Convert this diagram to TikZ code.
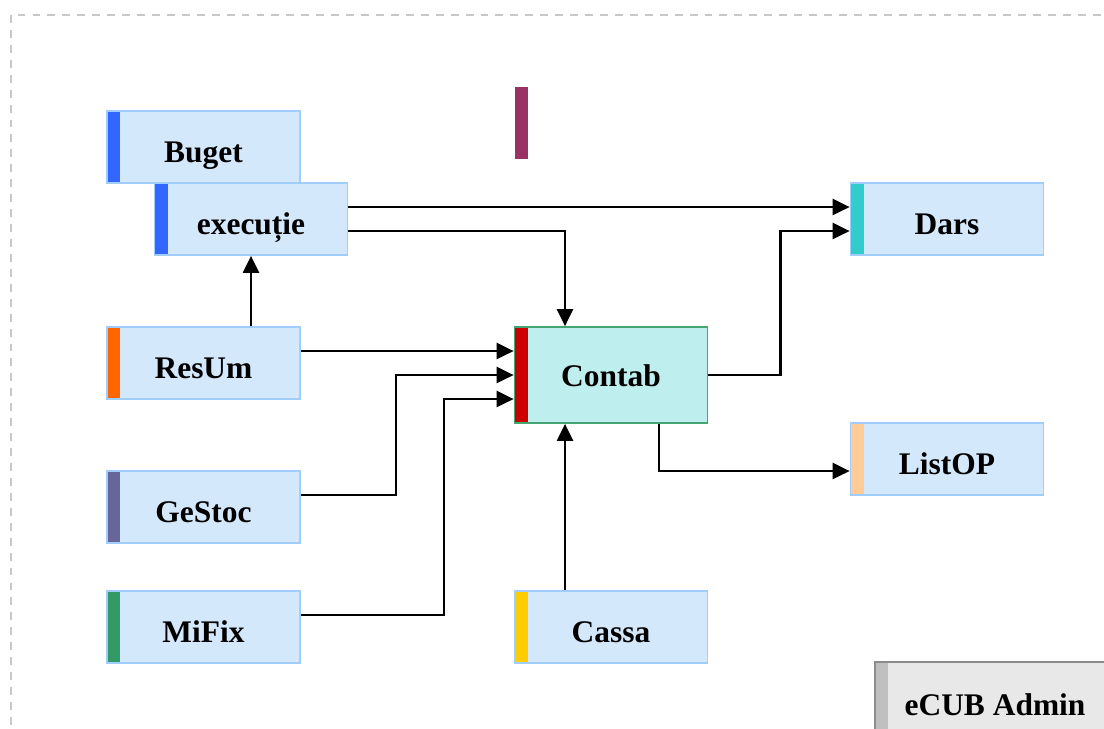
\documentclass[tikz,border=0pt]{standalone}
\usepackage{fontspec}
\setmainfont{Liberation Serif}
\usetikzlibrary{
    arrows.meta,    % Triangle tips
    calc            % ($(a)+(0,12)$)
}
\definecolor{modfill}{RGB}{212,232,252}
\definecolor{modedge}{RGB}{160,205,250}
\definecolor{ctbfill}{RGB}{190,238,238}
\definecolor{ctbedge}{RGB}{70,165,115}
\definecolor{barblue}{RGB}{51,102,255}
\definecolor{barcyan}{RGB}{51,204,204}
\definecolor{barorange}{RGB}{255,102,0}
\definecolor{barred}{RGB}{204,0,0}
\definecolor{barpeach}{RGB}{255,204,153}
\definecolor{barslate}{RGB}{102,102,153}
\definecolor{bargreen}{RGB}{51,153,102}
\definecolor{baryellow}{RGB}{255,204,0}
\definecolor{barpurple}{RGB}{153,51,102}
\definecolor{admfill}{RGB}{232,232,232}
\definecolor{admbar}{RGB}{192,192,192}
\definecolor{admedge}{RGB}{140,140,140}
\definecolor{frame}{RGB}{200,200,200}
\begin{document}
\begin{tikzpicture}[x=0.02cm, y=-0.02cm,
        font=\fontsize{17.9}{20}\selectfont\bfseries,
        mod/.style={draw=modedge, line width=1pt, fill=modfill, inner sep=0pt,
            minimum width=3.86cm, minimum height=1.44cm,
            text height=0.6cm, text depth=0pt,
            path picture={\fill[#1] (path picture bounding box.north west)
                rectangle ([xshift=0.26cm]path picture bounding box.south west);}},
        arr/.style={-{Triangle[length=0.34cm,width=0.32cm]}, line width=1.3pt}]
    \clip (0,0) rectangle (1104,728);
    \draw[frame, line width=0.6pt, dash pattern=on 4.5pt off 4pt] (11,15) rectangle (1140,760);
    % modules
    \node[mod=barblue]   (buget)  at (203.5,147) {Buget};
    \node[mod=barblue]   (exec)   at (251,219)   {execuție};
    \node[mod=barcyan]   (dars)   at (947,219)   {Dars};
    \node[mod=barorange] (resum)  at (203.5,363) {ResUm};
    \node[mod=barred, fill=ctbfill, draw=ctbedge, minimum height=1.92cm,
        text height=0.46cm] (contab) at (611,375) {Contab};
    \node[mod=barpeach]  (listop) at (947,459)   {ListOP};
    \node[mod=barslate]  (gestoc) at (203.5,507) {GeStoc};
    \node[mod=bargreen]  (mifix)  at (203.5,627) {MiFix};
    \node[mod=baryellow] (cassa)  at (611,627)   {Cassa};
    \node[mod=admbar, fill=admfill, draw=admedge, minimum width=4.8cm,
        text height=0.7cm] (admin) at (995,698) {eCUB Admin};
    \node[fill=barpurple, inner sep=0pt, minimum width=0.26cm, minimum height=1.44cm] (mark) at (521.5,123) {};
    % flows
    \draw[arr] ($(exec.east)+(0,-12)$) -- ($(dars.west)+(0,-12)$);
    \draw[arr] ($(exec.east)+(0,12)$) -| ($(contab.north)+(-46,0)$);
    \draw[arr] (exec.south |- resum.north) -- (exec.south);
    \draw[arr] ($(resum.east)+(0,-12)$) -- ($(contab.west)+(0,-24)$);
    \draw[arr] ($(gestoc.east)+(0,-12)$) -- ++(95,0) |- (contab.west);
    \draw[arr] ($(mifix.east)+(0,-12)$) -- ++(143,0) |- ($(contab.west)+(0,24)$);
    \draw[arr] ($(cassa.north)+(-46,0)$) -- ($(contab.south)+(-46,0)$);
    \draw[arr] (contab.east) -- ++(72,0) |- ($(dars.west)+(0,12)$);
    \draw[arr] ($(contab.south)+(48,0)$) |- ($(listop.west)+(0,12)$);
\end{tikzpicture}
\end{document}
